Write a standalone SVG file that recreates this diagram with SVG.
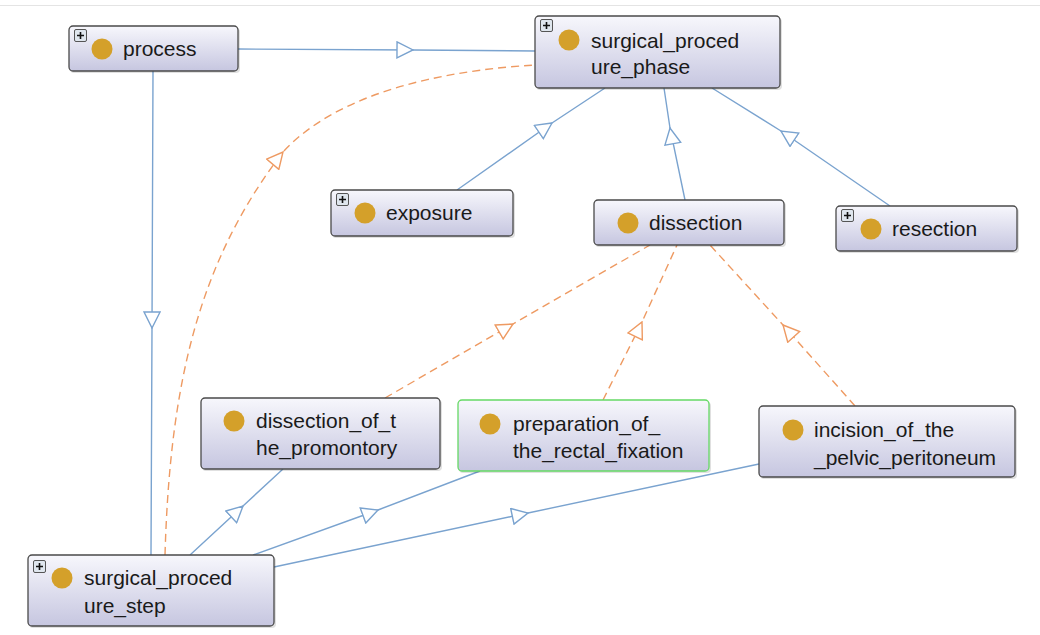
<svg xmlns="http://www.w3.org/2000/svg" width="1040" height="635" viewBox="0 0 1040 635">
<style>
.node rect.box{fill:url(#g);stroke:#4a4a4a;stroke-width:1.3}
.node rect.sh{fill:#000;opacity:0.12}
.node circle{fill:#D4A02A}
.node text{font-family:"Liberation Sans",Arial,sans-serif;font-size:21px;fill:#1a1a1a}
.plus rect{fill:#dfe6ee;stroke:#555;stroke-width:1}
.plus path{stroke:#111;stroke-width:1.6}
.e{fill:none;stroke:#7aa3cf;stroke-width:1.4;marker-mid:url(#ab)}
.d{fill:none;stroke:#ee9a62;stroke-width:1.4;stroke-dasharray:8 5;marker-mid:url(#ao)}
</style>
<defs>
<linearGradient id="g" x1="0" y1="0" x2="0" y2="1">
<stop offset="0" stop-color="#f7f7fc"/>
<stop offset="1" stop-color="#c6c6e0"/>
</linearGradient>
<marker id="ab" viewBox="0 0 18 18" refX="17" refY="9" markerWidth="18" markerHeight="18" markerUnits="userSpaceOnUse" orient="auto">
<path d="M1,1 L17,9 L1,17 Z" fill="#fff" stroke="#7aa3cf" stroke-width="1.4"/>
</marker>
<marker id="ao" viewBox="0 0 18 18" refX="17" refY="9" markerWidth="18" markerHeight="18" markerUnits="userSpaceOnUse" orient="auto">
<path d="M1,1 L17,9 L1,17 Z" fill="#fff" stroke="#ee9a62" stroke-width="1.4"/>
</marker>
<g id="pl" class="plus"><rect x="0.5" y="0.5" width="12" height="12" rx="1.5"/><path d="M3,6.5 H10 M6.5,3 V10"/></g>
</defs>
<rect x="0" y="0" width="1040" height="635" fill="#fff"/>
<line x1="0" y1="5.5" x2="1040" y2="5.5" stroke="#e4e4e4"/>
<g id="connectors">
<polyline class="e" points="238,49 413,50 535,51"/>
<polyline class="e" points="153,71 152,328 151,555"/>
<path class="d" d="M165,555 C170,380 200,260 283,152 C340,90 450,70 535,65"/>
<polyline class="e" points="457,190 552,123 605,88"/>
<polyline class="e" points="685,200 670,128 664,88"/>
<polyline class="e" points="890,206 781,131 712,88"/>
<polyline class="d" points="385,398 513,324 650,245"/>
<polyline class="d" points="603,400 642,322 677,245"/>
<polyline class="d" points="855,406 783,325 710,245"/>
<polyline class="e" points="190,555 243,506 283,469"/>
<polyline class="e" points="253,555 378,510 480,471"/>
<polyline class="e" points="274,567 528,513 759,464"/>
</g>
<g id="process" class="node"><rect class="sh" x="70" y="28" width="170" height="45" rx="4"/><rect class="box" x="69" y="26" width="169" height="45" rx="4"/><use href="#pl" x="74" y="29"/><circle cx="102" cy="49" r="10.5"/><text x="123" y="56">process</text></g>
<g id="surgical_procedure_phase" class="node"><rect class="sh" x="536" y="18" width="246" height="72" rx="4"/><rect class="box" x="535" y="16" width="245" height="72" rx="4"/><use href="#pl" x="540" y="19"/><circle cx="569" cy="40" r="10.5"/><text x="591" y="48">surgical_proced</text><text x="591" y="74">ure_phase</text></g>
<g id="exposure" class="node"><rect class="sh" x="332" y="192" width="183" height="46" rx="4"/><rect class="box" x="331" y="190" width="182" height="46" rx="4"/><use href="#pl" x="336" y="193"/><circle cx="365" cy="213" r="10.5"/><text x="386" y="220">exposure</text></g>
<g id="dissection" class="node"><rect class="sh" x="595" y="202" width="191" height="45" rx="4"/><rect class="box" x="594" y="200" width="190" height="45" rx="4"/><circle cx="628" cy="223" r="10.5"/><text x="649" y="230">dissection</text></g>
<g id="resection" class="node"><rect class="sh" x="837" y="208" width="182" height="45" rx="4"/><rect class="box" x="836" y="206" width="181" height="45" rx="4"/><use href="#pl" x="841" y="209"/><circle cx="871" cy="229" r="10.5"/><text x="892" y="236">resection</text></g>
<g id="dissection_of_the_promontory" class="node"><rect class="sh" x="202" y="400" width="240" height="71" rx="4"/><rect class="box" x="201" y="398" width="239" height="71" rx="4"/><circle cx="234" cy="421" r="10.5"/><text x="256" y="428">dissection_of_t</text><text x="256" y="455">he_promontory</text></g>
<g id="preparation_of_the_rectal_fixation" class="node"><rect class="sh" x="459" y="402" width="252" height="71" rx="4"/><rect class="box" x="458" y="400" width="251" height="71" rx="4" style="stroke:#66d966"/><circle cx="490" cy="424" r="10.5"/><text x="513" y="431">preparation_of_</text><text x="513" y="458">the_rectal_fixation</text></g>
<g id="incision_of_the_pelvic_peritoneum" class="node"><rect class="sh" x="760" y="408" width="257" height="71" rx="4"/><rect class="box" x="759" y="406" width="256" height="71" rx="4"/><circle cx="793" cy="430" r="10.5"/><text x="814" y="437">incision_of_the</text><text x="814" y="465">_pelvic_peritoneum</text></g>
<g id="surgical_procedure_step" class="node"><rect class="sh" x="29" y="557" width="247" height="71" rx="4"/><rect class="box" x="28" y="555" width="246" height="71" rx="4"/><use href="#pl" x="33" y="560"/><circle cx="62" cy="578" r="10.5"/><text x="84" y="585">surgical_proced</text><text x="84" y="613">ure_step</text></g>
</svg>
